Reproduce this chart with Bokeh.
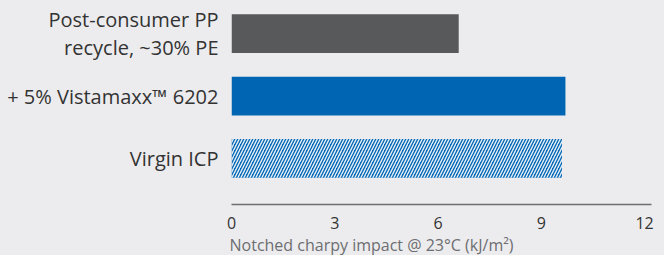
from bokeh.plotting import figure
from bokeh.models import ColumnDataSource, Range1d, FixedTicker, Title
from bokeh.embed import file_html
from bokeh.resources import INLINE

# Data
categories = ["Post-consumer PP\nrecycle, ~30% PE", "+ 5% Vistamaxx\u2122 6202", "Virgin ICP"]
values = [6.6, 9.7, 9.6]
x_ticks = [0, 3, 6, 9, 12]
x_title = "Notched charpy impact @ 23\u00b0C (kJ/m\u00b2)"

BG = "#ECECEE"
positions = [2, 1, 0]
colors = ["#58595B", "#0066B3", "#0066B3"]
hatched = [False, False, True]

solid = ColumnDataSource(dict(y=[y for y, h in zip(positions, hatched) if not h],
                              v=[v for v, h in zip(values, hatched) if not h],
                              c=[c for c, h in zip(colors, hatched) if not h]))
hatch = ColumnDataSource(dict(y=[y for y, h in zip(positions, hatched) if h],
                              v=[v for v, h in zip(values, hatched) if h],
                              c=[c for c, h in zip(colors, hatched) if h]))

p = figure(width=664, height=255, output_backend="svg", toolbar_location=None,
           x_range=Range1d(0, 12.2), y_range=Range1d(-0.738, 2.532),
           min_border_left=231, min_border_right=13, min_border_top=0, min_border_bottom=0)
p.background_fill_color = BG
p.border_fill_color = BG
p.outline_line_color = None
p.grid.visible = False

p.hbar(y="y", right="v", left=0, height=0.62, source=solid, fill_color="c", line_color=None)
p.hbar(y="y", right="v", left=0, height=0.62, source=hatch, fill_color="c", line_color=None,
       hatch_pattern="/", hatch_color="white", hatch_alpha=0.9, hatch_scale=6, hatch_weight=1.4)

# x axis
xa = p.xaxis[0]
xa.ticker = FixedTicker(ticks=x_ticks)
xa.major_tick_line_color = None
xa.minor_tick_line_color = None
xa.axis_line_color = "#6D6E71"
xa.axis_line_width = 1.3
xa.major_label_standoff = 6
xa.major_label_text_font = "Open Sans"
xa.major_label_text_font_size = "16px"
xa.major_label_text_color = "#333333"

# y axis
ya = p.yaxis[0]
ya.ticker = FixedTicker(ticks=positions)
ya.major_label_overrides = {pos: lab for pos, lab in zip(positions, categories)}
ya.axis_line_color = None
ya.major_tick_line_color = None
ya.minor_tick_line_color = None
ya.major_label_standoff = 7
ya.major_label_text_font = "Open Sans"
ya.major_label_text_font_size = "20px"
ya.major_label_text_color = "#333333"
ya.major_label_text_line_height = 1.05

p.add_layout(Title(text=x_title, align="left", text_font="Open Sans", text_font_size="16px",
                   text_color="#6D6E71", text_font_style="normal", offset=-2, standoff=0), "below")

html = file_html(p, INLINE)
html = html.replace("</head>", "<style>html,body{background:%s;margin:0;padding:0;overflow:hidden;}</style></head>" % BG, 1)
open("out.html", "w").write(html)
